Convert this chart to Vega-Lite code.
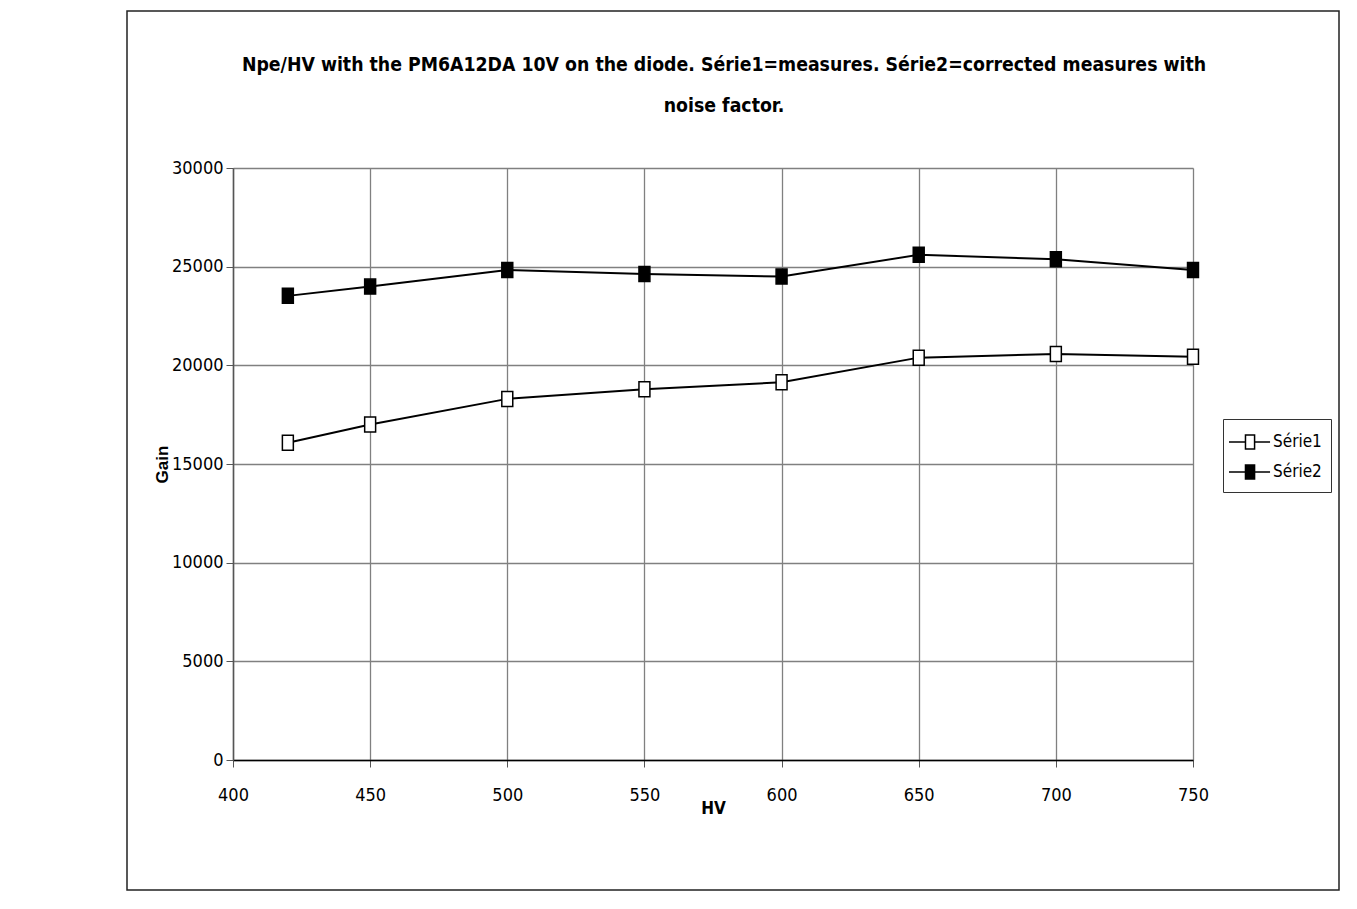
{
  "$schema": "https://vega.github.io/schema/vega-lite/v6.json",
  "width": 960,
  "height": 592,
  "autosize": {"type": "none"},
  "padding": {"left": 233, "top": 168, "right": 164, "bottom": 149},
  "background": "white",
  "title": {
    "text": [
      "Npe/HV with the PM6A12DA 10V on the diode. Série1=measures. Série2=corrected measures with",
      "noise factor."
    ],
    "font": "DejaVu Sans Condensed",
    "fontSize": 19.3,
    "fontWeight": "bold",
    "color": "black",
    "lineHeight": 41,
    "baseline": "alphabetic",
    "offset": -121,
    "dx": 11,
    "anchor": "middle"
  },
  "data": {
    "values": [
      {"hv": 420, "gain": 16080, "series": "Série1"},
      {"hv": 450, "gain": 17000, "series": "Série1"},
      {"hv": 500, "gain": 18300, "series": "Série1"},
      {"hv": 550, "gain": 18790, "series": "Série1"},
      {"hv": 600, "gain": 19140, "series": "Série1"},
      {"hv": 650, "gain": 20390, "series": "Série1"},
      {"hv": 700, "gain": 20580, "series": "Série1"},
      {"hv": 750, "gain": 20440, "series": "Série1"},
      {"hv": 420, "gain": 23520, "series": "Série2"},
      {"hv": 450, "gain": 23990, "series": "Série2"},
      {"hv": 500, "gain": 24830, "series": "Série2"},
      {"hv": 550, "gain": 24630, "series": "Série2"},
      {"hv": 600, "gain": 24500, "series": "Série2"},
      {"hv": 650, "gain": 25600, "series": "Série2"},
      {"hv": 700, "gain": 25380, "series": "Série2"},
      {"hv": 750, "gain": 24830, "series": "Série2"}
    ]
  },
  "encoding": {
    "x": {
      "field": "hv",
      "type": "quantitative",
      "scale": {"domain": [400, 750], "nice": false, "zero": false},
      "axis": {
        "title": "HV",
        "values": [400, 450, 500, 550, 600, 650, 700, 750],
        "format": "d",
        "grid": true,
        "gridColor": "#808080",
        "gridWidth": 1.3,
        "tickColor": "#555555",
        "tickSize": 7,
        "domainColor": "black",
        "domainWidth": 1.5,
        "labelFont": "DejaVu Sans Condensed",
        "labelFontSize": 18,
        "labelColor": "black",
        "labelFlush": false,
        "labelPadding": 19,
        "titleFont": "DejaVu Sans Condensed",
        "titleFontSize": 17,
        "titleFontWeight": "bold",
        "titleColor": "black",
        "titleBaseline": "middle",
        "titleY": 48
      }
    },
    "y": {
      "field": "gain",
      "type": "quantitative",
      "scale": {"domain": [0, 30000], "nice": false},
      "axis": {
        "title": "Gain",
        "values": [0, 5000, 10000, 15000, 20000, 25000, 30000],
        "format": "d",
        "grid": true,
        "gridColor": "#808080",
        "gridWidth": 1.3,
        "tickColor": "#555555",
        "tickSize": 7,
        "domainColor": "#555555",
        "domainWidth": 1.5,
        "labelFont": "DejaVu Sans Condensed",
        "labelFontSize": 18,
        "labelColor": "black",
        "labelFlush": false,
        "labelPadding": 3,
        "titleFont": "Liberation Sans",
        "titleFontSize": 17,
        "titleFontWeight": "bold",
        "titleColor": "black",
        "titleBaseline": "middle",
        "titleX": -71,
        "titleY": 296
      }
    }
  },
  "layer": [
    {
      "data": {"values": [{}]},
      "mark": {"type": "rect", "fillOpacity": 0, "stroke": "#222222", "strokeWidth": 1.5},
      "encoding": {
        "x": {"value": -106},
        "x2": {"value": 1106},
        "y": {"value": -157},
        "y2": {"value": 722}
      }
    },
    {
      "mark": {"type": "line", "color": "black", "strokeWidth": 2},
      "encoding": {"detail": {"field": "series"}}
    },
    {
      "mark": {
        "type": "point",
        "shape": "M-0.73,-1H0.73V1H-0.73Z",
        "size": 225,
        "filled": true,
        "opacity": 1,
        "stroke": "black",
        "strokeWidth": 1.5
      },
      "encoding": {
        "fill": {
          "field": "series",
          "type": "nominal",
          "scale": {"domain": ["Série1", "Série2"], "range": ["white", "black"]},
          "legend": {
            "title": null,
            "orient": "none",
            "legendX": 990,
            "legendY": 251,
            "symbolType": "M-1.31,0H-0.04M0.66,0H1.85M-0.04,-0.54H0.66V0.54H-0.04Z",
            "symbolSize": 676,
            "symbolStrokeColor": "black",
            "symbolStrokeWidth": 1.5,
            "symbolOpacity": 1,
            "labelFont": "DejaVu Sans Condensed",
            "labelFontSize": 17,
            "labelColor": "black",
            "labelOffset": 13,
            "rowPadding": 5,
            "padding": 9,
            "strokeColor": "#333333"
          }
        }
      }
    }
  ]
}
